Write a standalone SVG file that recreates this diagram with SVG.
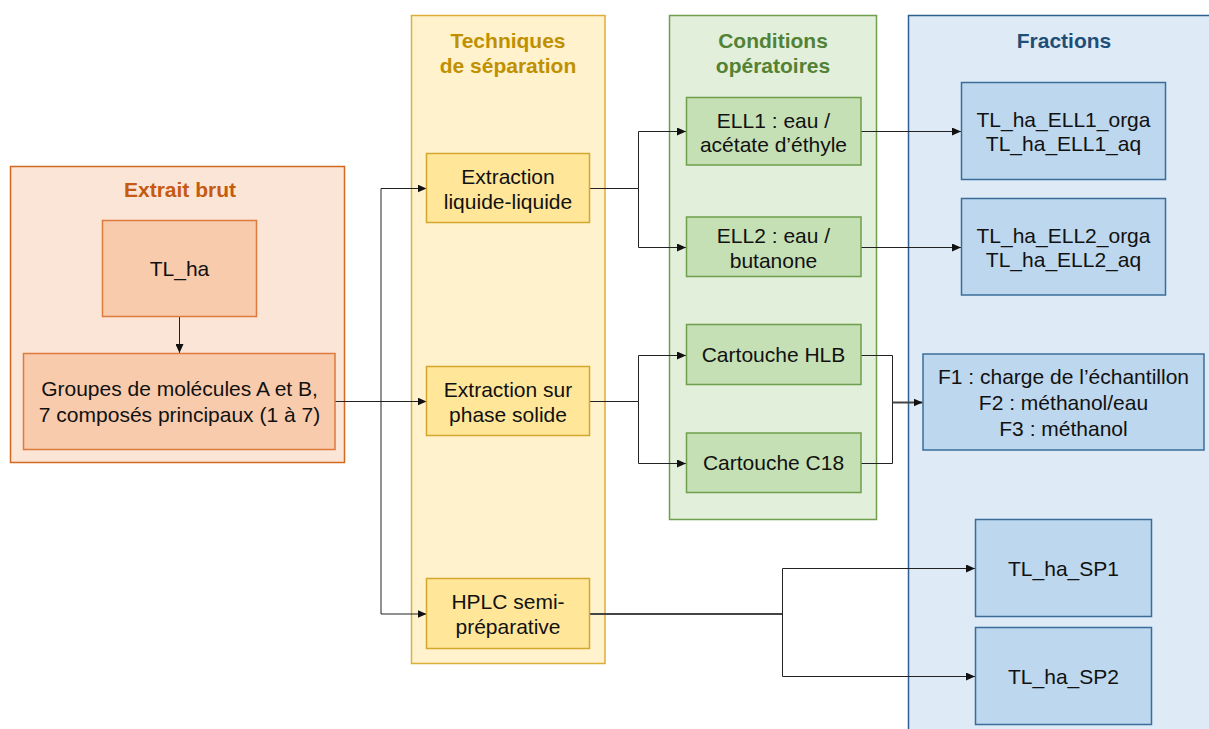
<svg xmlns="http://www.w3.org/2000/svg" width="1209" height="729" viewBox="0 0 1209 729">
<style>
text{font-family:"Liberation Sans",Arial,sans-serif;font-size:21px;text-anchor:middle;fill:#111}
.title{font-weight:bold}
.c1{fill:#fbe5d6;stroke:#d2691e;stroke-width:1.5}
.n1{fill:#f8cbad;stroke:#dd7a3e;stroke-width:1.5}
.c2{fill:#fff2cc;stroke:#dcae3a;stroke-width:1.5}
.n2{fill:#ffe699;stroke:#d4a72c;stroke-width:1.5}
.c3{fill:#e2efda;stroke:#6f9f4c;stroke-width:1.5}
.n3{fill:#c5e0b4;stroke:#6f9f4c;stroke-width:1.5}
.c4{fill:#deeaf6;stroke:#2f5f8c;stroke-width:1.5}
.n4{fill:#bdd7ee;stroke:#3a6d99;stroke-width:1.5}
.e{fill:none;stroke:#222;stroke-width:1}
.ea{fill:none;stroke:#222;stroke-width:1;marker-end:url(#arr)}
.thick{stroke:#444;stroke-width:2}
</style>
<defs>
<marker id="arr" markerUnits="userSpaceOnUse" markerWidth="10" markerHeight="8" refX="9" refY="4" orient="auto">
<path d="M0,0 L9,4 L0,8 Z" fill="#111"/>
</marker>
</defs>

<g id="containers">
<g id="extrait-brut">
<rect class="c1" x="10.5" y="166.5" width="334" height="296"/>
<text class="title" x="180" y="197" style="fill:#c55a11">Extrait brut</text>
</g>
<g id="techniques">
<rect class="c2" x="411.5" y="15.5" width="193.5" height="648"/>
<text class="title" x="508" y="48" style="fill:#bf9000">Techniques</text>
<text class="title" x="508" y="73" style="fill:#bf9000">de séparation</text>
</g>
<g id="conditions">
<rect class="c3" x="669.5" y="15.5" width="207" height="504"/>
<text class="title" x="773" y="48" style="fill:#538135">Conditions</text>
<text class="title" x="773" y="73" style="fill:#538135">opératoires</text>
</g>
<g id="fractions">
<rect class="c4" x="908.5" y="15.5" width="310" height="730"/>
<text class="title" x="1064" y="48" style="fill:#1f4e79">Fractions</text>
</g>
</g>

<g id="connectors">
<path class="ea" d="M179.5,317 V353"/>
<path class="ea" d="M335,401.5 H426.5"/>
<path class="ea" d="M381,401.5 V188.5 H426.5"/>
<path class="ea" d="M381,401.5 V614 H426.5"/>
<path class="e" d="M590,188.5 H638.5"/>
<path class="ea" d="M638.5,188.5 V131.5 H686"/>
<path class="ea" d="M638.5,188.5 V247.5 H686"/>
<path class="e" d="M590,401.5 H638.5"/>
<path class="ea" d="M638.5,401.5 V355.5 H686"/>
<path class="ea" d="M638.5,401.5 V463.5 H686"/>
<path class="ea" d="M861,131.5 H961"/>
<path class="ea" d="M861,247.5 H961"/>
<path class="e" d="M861,355.5 H892.5 V463.5 H861"/>
<path class="ea thick" d="M892.5,402.5 H922.5"/>
<path class="e thick" d="M590,614 H782.5"/>
<path class="ea" d="M782.5,614 V568.5 H975"/>
<path class="ea" d="M782.5,614 V676.5 H975"/>
</g>

<g id="node-tl-ha">
<rect class="n1" x="102.5" y="220.5" width="154" height="96"/>
<text x="179.5" y="276">TL_ha</text>
</g>
<g id="node-groupes">
<rect class="n1" x="23.5" y="353.5" width="311.5" height="96"/>
<text x="179.5" y="396">Groupes de molécules A et B,</text>
<text x="179.5" y="422">7 composés principaux (1 à 7)</text>
</g>

<g id="node-ell">
<rect class="n2" x="426.5" y="153.5" width="163" height="69"/>
<text x="508" y="183.5">Extraction</text>
<text x="508" y="208.5">liquide-liquide</text>
</g>
<g id="node-spe">
<rect class="n2" x="426.5" y="366.5" width="163" height="69"/>
<text x="508" y="396.5">Extraction sur</text>
<text x="508" y="421.5">phase solide</text>
</g>
<g id="node-hplc">
<rect class="n2" x="426.5" y="578.5" width="163" height="70"/>
<text x="508" y="609">HPLC semi-</text>
<text x="508" y="634">préparative</text>
</g>

<g id="node-ell1">
<rect class="n3" x="686.5" y="97.5" width="174.5" height="67.5"/>
<text x="773.5" y="127.5">ELL1 : eau /</text>
<text x="773.5" y="152">acétate d’éthyle</text>
</g>
<g id="node-ell2">
<rect class="n3" x="686.5" y="217" width="174.5" height="59.5"/>
<text x="773.5" y="242.5">ELL2 : eau /</text>
<text x="773.5" y="267.5">butanone</text>
</g>
<g id="node-hlb">
<rect class="n3" x="686.5" y="324.5" width="174.5" height="60"/>
<text x="773.5" y="362">Cartouche HLB</text>
</g>
<g id="node-c18">
<rect class="n3" x="686.5" y="433" width="174.5" height="59.5"/>
<text x="773.5" y="470">Cartouche C18</text>
</g>

<g id="node-frac-ell1">
<rect class="n4" x="961.5" y="82.5" width="204" height="97"/>
<text x="1063.5" y="126.5">TL_ha_ELL1_orga</text>
<text x="1063.5" y="151">TL_ha_ELL1_aq</text>
</g>
<g id="node-frac-ell2">
<rect class="n4" x="961.5" y="198.5" width="204" height="96.5"/>
<text x="1063.5" y="242.5">TL_ha_ELL2_orga</text>
<text x="1063.5" y="267">TL_ha_ELL2_aq</text>
</g>
<g id="node-frac-spe">
<rect class="n4" x="923" y="354" width="281" height="96"/>
<text x="1063.5" y="384">F1 : charge de l’échantillon</text>
<text x="1063.5" y="410">F2 : méthanol/eau</text>
<text x="1063.5" y="435.5">F3 : méthanol</text>
</g>
<g id="node-sp1">
<rect class="n4" x="975.5" y="519.5" width="176" height="97"/>
<text x="1063.5" y="575.5">TL_ha_SP1</text>
</g>
<g id="node-sp2">
<rect class="n4" x="975.5" y="627.5" width="176" height="97"/>
<text x="1063.5" y="683.5">TL_ha_SP2</text>
</g>
</svg>
